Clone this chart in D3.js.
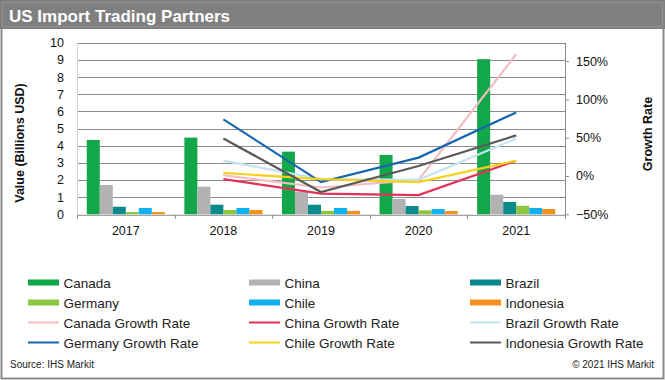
<!DOCTYPE html>
<html>
<head>
<meta charset="utf-8">
<script src="https://d3js.org/d3.v7.min.js"></script>
<style>
  body { margin: 0; background: #fff; }
  svg { font-family: "Liberation Sans", Arial, sans-serif; display: block; }
</style>
</head>
<body>
<svg id="vis"></svg>
<script>
  var years = ['2017', '2018', '2019', '2020', '2021']
  var countries = ['Canada', 'China', 'Brazil', 'Germany', 'Chile', 'Indonesia']
  var barColors = ['#12a84a', '#b2b2b2', '#0b8a8c', '#8cc63f', '#0fb2ef', '#f5901e']
  var lineColors = ['#f5bcc4', '#e5305a', '#c5e3f3', '#1766b0', '#f7d117', '#5a5a5a']

  // import values, billions USD
  var canada    = [4.33, 4.47, 3.65, 3.46, 9.04]
  var china     = [1.71, 1.61, 1.32, 0.89, 1.14]
  var brazil    = [0.44, 0.56, 0.56, 0.48, 0.72]
  var germany   = [0.13, 0.25, 0.20, 0.23, 0.50]
  var chile     = [0.37, 0.37, 0.37, 0.31, 0.37]
  var indonesia = [0.13, 0.25, 0.20, 0.19, 0.31]

  // growth rates from 2018 on
  var growthYears  = ['2018', '2019', '2020', '2021']
  var canadaGR     = [0.01, -0.15, -0.05, 1.59]
  var chinaGR      = [-0.04, -0.23, -0.25, 0.20]
  var brazilGR     = [0.20, -0.04, -0.05, 0.49]
  var germanyGR    = [0.74, -0.08, 0.24, 0.83]
  var chileGR      = [0.04, -0.04, -0.08, 0.20]
  var indonesiaGR  = [0.49, -0.21, 0.13, 0.53]

  var leftTicks = [0, 1, 2, 3, 4, 5, 6, 7, 8, 9, 10]
  var rightTicks = [-0.5, 0, 0.5, 1, 1.5]

  var values = [canada, china, brazil, germany, chile, indonesia]
  var growth = [canadaGR, chinaGR, brazilGR, germanyGR, chileGR, indonesiaGR]

  var W = 665, H = 380
  var svg = d3.select('#vis').attr('width', W).attr('height', H)

  // frame + title bar
  svg.append('rect').attr('x', 1.5).attr('y', 1.5).attr('width', W - 3).attr('height', H - 3)
    .attr('fill', '#fff').attr('stroke', '#8a8a8a').attr('stroke-width', 2)
  svg.append('rect').attr('x', 0).attr('y', 0).attr('width', W).attr('height', 29)
    .attr('fill', '#7f7f7f')
  svg.append('rect').attr('x', 2.5).attr('y', 2.5).attr('width', W - 5).attr('height', 24)
    .attr('fill', 'none').attr('stroke', '#929292').attr('stroke-width', 1)
  svg.append('text').attr('x', 9).attr('y', 22)
    .attr('fill', '#fff').attr('font-size', 17).attr('font-weight', 'bold')
    .text('US Import Trading Partners')

  var pL = 77, pR = 565, pT = 42.7, pB = 214.3

  var x = d3.scaleBand().domain(years).range([pL, pR])
  var xInner = d3.scaleBand().domain(countries)
    .range([0, x.bandwidth()]).paddingOuter(0.75)
  var y = d3.scaleLinear().domain([0, 10]).range([pB, pT])
  var y2 = d3.scaleLinear().domain([-0.5, 1.74]).range([pB, pT])

  // gridlines
  svg.append('g').selectAll('line').data(leftTicks.slice(1)).enter().append('line')
    .attr('x1', pL).attr('x2', pR)
    .attr('y1', function (d) { return Math.round(y(d)) + 0.5 })
    .attr('y2', function (d) { return Math.round(y(d)) + 0.5 })
    .attr('stroke', '#8c8c8c').attr('stroke-width', 1)

  // left axis
  var yAxis = d3.axisLeft(y).tickValues(leftTicks).tickSize(0).tickPadding(13)
  var gy = svg.append('g').attr('transform', 'translate(' + pL + ',0)').call(yAxis)
  gy.select('.domain').attr('stroke', '#d8d8d8')
  gy.selectAll('text').attr('font-size', 12.5).attr('fill', '#111')
    .attr('font-family', '"Liberation Sans", Arial, sans-serif')

  // right axis
  var yAxis2 = d3.axisRight(y2).tickValues(rightTicks).tickSize(4).tickPadding(7)
    .tickFormat(d3.format('.0%'))
  var gy2 = svg.append('g').attr('transform', 'translate(' + pR + ',0)').call(yAxis2)
  gy2.select('.domain').attr('stroke', '#8c8c8c').attr('d', 'M0.5,' + pT + 'V' + pB)
  gy2.selectAll('line').attr('stroke', '#8c8c8c')
  gy2.selectAll('text').attr('font-size', 12.5).attr('fill', '#111')
    .attr('font-family', '"Liberation Sans", Arial, sans-serif')

  // bars
  var groups = svg.append('g').selectAll('g').data(years).enter().append('g')
    .attr('transform', function (d) { return 'translate(' + x(d) + ',0)' })
  groups.selectAll('rect')
    .data(function (yr, i) {
      return countries.map(function (c, k) { return { c: c, k: k, v: values[k][i] } })
    })
    .enter().append('rect')
      .attr('x', function (d) { return xInner(d.c) })
      .attr('width', xInner.bandwidth())
      .attr('y', function (d) { return y(d.v) })
      .attr('height', function (d) { return pB - y(d.v) })
      .attr('fill', function (d) { return barColors[d.k] })

  // x axis
  var xAxis = d3.axisBottom(x).tickSize(0).tickPadding(11)
  var gx = svg.append('g').attr('transform', 'translate(0,' + (pB + 0.5) + ')').call(xAxis)
  gx.select('.domain').attr('stroke', '#8c8c8c')
  gx.selectAll('text').attr('font-size', 12.5).attr('fill', '#111')
    .attr('font-family', '"Liberation Sans", Arial, sans-serif')
  gx.append('g').selectAll('line').data(years.concat(['end'])).enter().append('line')
    .attr('x1', function (d, i) { return Math.round(pL + i * x.bandwidth()) + 0.5 })
    .attr('x2', function (d, i) { return Math.round(pL + i * x.bandwidth()) + 0.5 })
    .attr('y1', 0).attr('y2', 4).attr('stroke', '#8c8c8c')

  // growth lines
  var line = d3.line()
    .x(function (d, i) { return x(growthYears[i]) + x.bandwidth() / 2 })
    .y(function (d) { return y2(d) })
  svg.append('g').selectAll('path').data(growth).enter().append('path')
    .attr('d', line)
    .attr('fill', 'none')
    .attr('stroke', function (d, i) { return lineColors[i] })
    .attr('stroke-width', 2.2)

  // axis titles
  svg.append('text')
    .attr('transform', 'translate(24,143) rotate(-90)')
    .attr('text-anchor', 'middle').attr('font-size', 12.5).attr('font-weight', 'bold')
    .attr('fill', '#111').text('Value (Billions USD)')
  svg.append('text')
    .attr('transform', 'translate(652,134) rotate(-90)')
    .attr('text-anchor', 'middle').attr('font-size', 12.5).attr('font-weight', 'bold')
    .attr('fill', '#111').text('Growth Rate')

  // legend
  var legendItems = countries.map(function (c, k) { return { name: c, color: barColors[k], bar: true } })
    .concat(countries.map(function (c, k) { return { name: c + ' Growth Rate', color: lineColors[k], bar: false } }))
  var colX = [28, 249, 470]
  var leg = svg.append('g').selectAll('g').data(legendItems).enter().append('g')
    .attr('transform', function (d, i) {
      return 'translate(' + colX[i % 3] + ',' + (282.5 + Math.floor(i / 3) * 20) + ')'
    })
  leg.append('rect')
    .attr('x', 0).attr('width', 31)
    .attr('y', function (d) { return d.bar ? -3 : -1 })
    .attr('height', function (d) { return d.bar ? 6 : 2 })
    .attr('fill', function (d) { return d.color })
  leg.append('text').attr('x', 35.5).attr('y', 5)
    .attr('font-size', 13.5).attr('fill', '#222')
    .text(function (d) { return d.name })

  // footer
  svg.append('text').attr('x', 10).attr('y', 368).attr('font-size', 10).attr('fill', '#222')
    .text('Source: IHS Markit')
  svg.append('text').attr('x', 654).attr('y', 368).attr('text-anchor', 'end')
    .attr('font-size', 10).attr('fill', '#222').text('\u00a9 2021 IHS Markit')
</script>
</body>
</html>
